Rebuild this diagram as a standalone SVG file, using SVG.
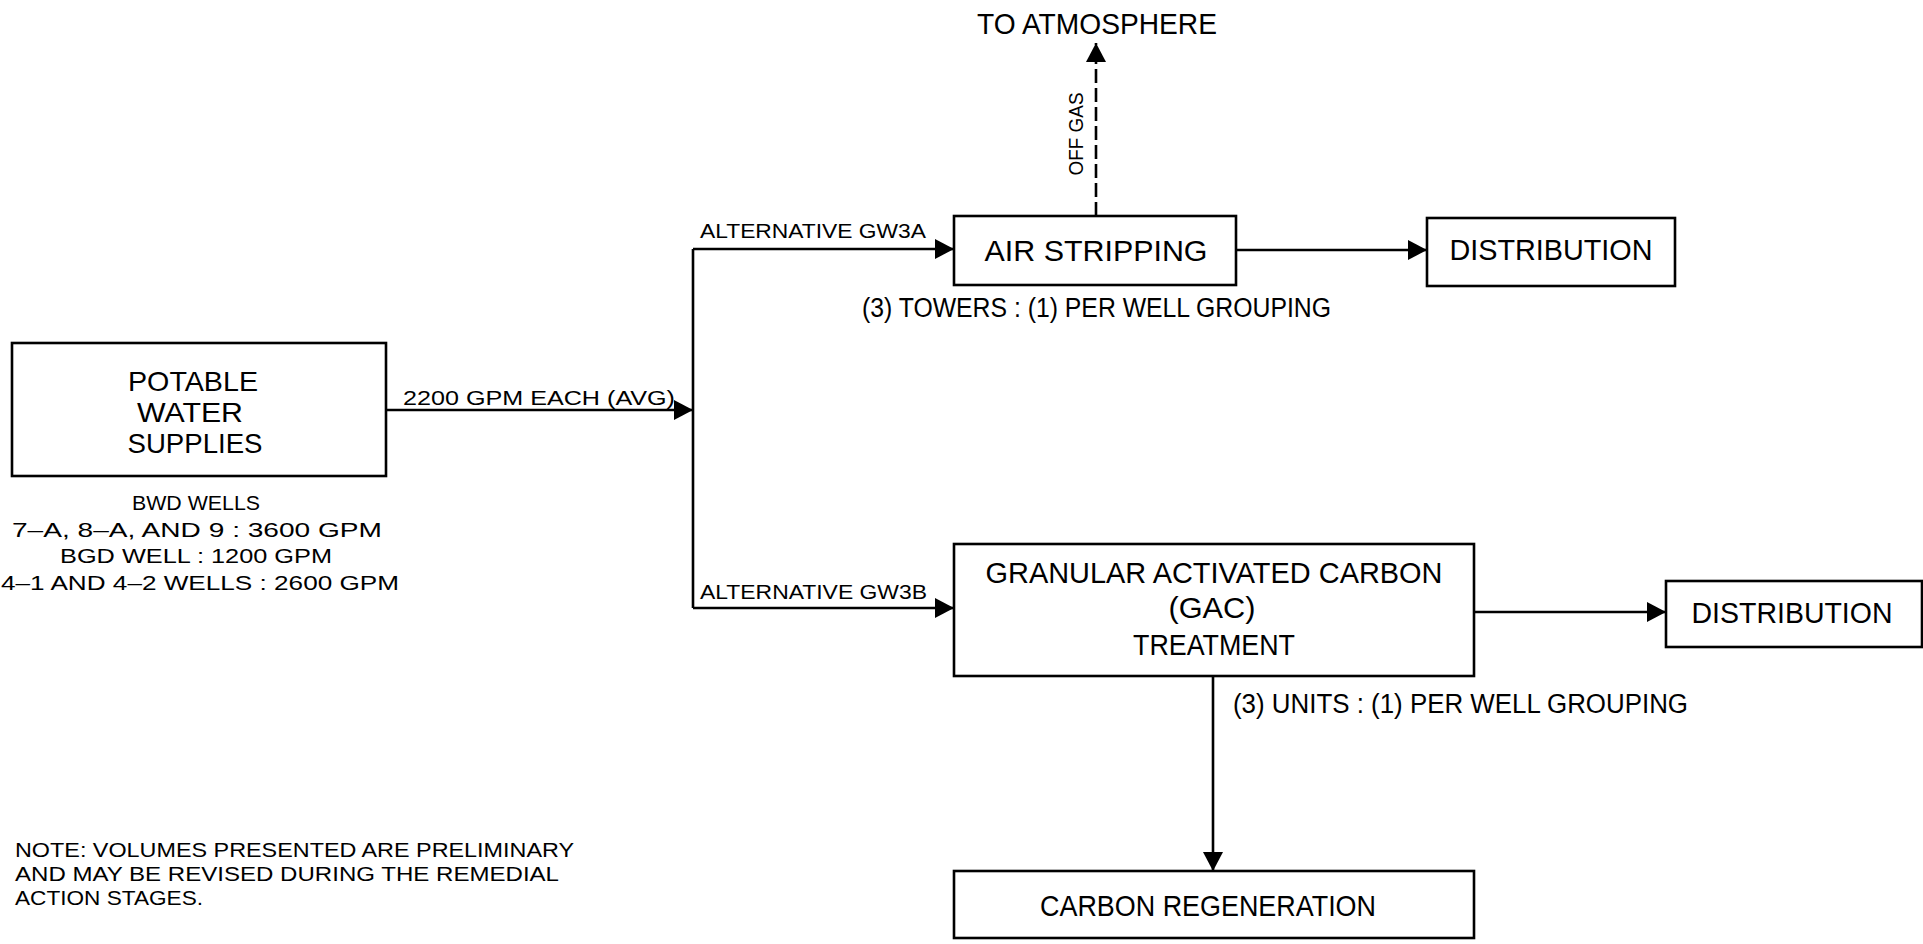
<svg xmlns="http://www.w3.org/2000/svg" width="1923" height="944" viewBox="0 0 1923 944">
  <style>
    .box { fill: #ffffff; stroke: #000000; stroke-width: 2.6; }
    .flow { fill: none; stroke: #000000; stroke-width: 2.6; marker-end: url(#arrow); }
    .plain { fill: none; stroke: #000000; stroke-width: 2.6; }
    .gas { fill: none; stroke: #000000; stroke-width: 2.6; stroke-dasharray: 14 5; marker-end: url(#arrow); }
    text { font-family: "Liberation Sans", Arial, sans-serif; fill: #000000; }
    .big { font-size: 27.5px; }
    .label { font-size: 30px; }
    .note { font-size: 27px; }
    .remark { font-size: 21px; }
    .small { font-size: 21px; }
  </style>
  <defs>
    <marker id="arrow" markerUnits="userSpaceOnUse" viewBox="0 0 20 20" refX="19" refY="10" markerWidth="20" markerHeight="20" orient="auto">
      <path d="M0,0 L19,10 L0,20 Z" fill="#000000"/>
    </marker>
  </defs>

  <rect width="1923" height="944" fill="#ffffff"/>

  <!-- flow lines -->
  <g id="connectors">
    <line class="flow" x1="386" y1="410" x2="693" y2="410"/>
    <line class="plain" x1="693" y1="249" x2="693" y2="608"/>
    <line class="flow" x1="693" y1="249" x2="954" y2="249"/>
    <line class="flow" x1="693" y1="608" x2="954" y2="608"/>
    <line class="flow" x1="1236" y1="250" x2="1427" y2="250"/>
    <line class="flow" x1="1474" y1="612" x2="1666" y2="612"/>
    <line class="flow" x1="1213" y1="676" x2="1213" y2="871"/>
    <line class="gas" x1="1096" y1="216" x2="1096" y2="43"/>
    <text class="small" x="403" y="405" textLength="272" lengthAdjust="spacingAndGlyphs">2200 GPM EACH (AVG)</text>
    <text class="small" x="700" y="238" font-size="22" textLength="226" lengthAdjust="spacingAndGlyphs">ALTERNATIVE GW3A</text>
    <text class="small" x="700" y="599" font-size="22" textLength="227" lengthAdjust="spacingAndGlyphs">ALTERNATIVE GW3B</text>
    <text class="small" transform="translate(1083,134) rotate(-90)" font-size="19" text-anchor="middle" textLength="83" lengthAdjust="spacingAndGlyphs">OFF GAS</text>
  </g>

  <!-- source -->
  <g id="potable-water-supplies">
    <rect class="box" x="12" y="343" width="374" height="133"/>
    <text class="big" x="193" y="391" text-anchor="middle" textLength="130" lengthAdjust="spacingAndGlyphs">POTABLE</text>
    <text class="big" x="190" y="422" text-anchor="middle" textLength="106" lengthAdjust="spacingAndGlyphs">WATER</text>
    <text class="big" x="195" y="453" text-anchor="middle" textLength="135" lengthAdjust="spacingAndGlyphs">SUPPLIES</text>
    <text class="small" x="196" y="510" text-anchor="middle" textLength="128" lengthAdjust="spacingAndGlyphs">BWD WELLS</text>
    <text class="small" x="197" y="537" text-anchor="middle" textLength="370" lengthAdjust="spacingAndGlyphs">7–A, 8–A, AND 9 : 3600 GPM</text>
    <text class="small" x="196" y="563" text-anchor="middle" textLength="272" lengthAdjust="spacingAndGlyphs">BGD WELL : 1200 GPM</text>
    <text class="small" x="200" y="590" text-anchor="middle" textLength="398" lengthAdjust="spacingAndGlyphs">4–1 AND 4–2 WELLS : 2600 GPM</text>
  </g>

  <g id="atmosphere">
    <text class="label" x="1097" y="34" font-size="28" text-anchor="middle" textLength="240" lengthAdjust="spacingAndGlyphs">TO ATMOSPHERE</text>
  </g>

  <g id="air-stripping">
    <rect class="box" x="954" y="216" width="282" height="69"/>
    <text class="label" x="1096" y="261" text-anchor="middle" textLength="223" lengthAdjust="spacingAndGlyphs">AIR STRIPPING</text>
    <text class="note" x="862" y="317" textLength="469" lengthAdjust="spacingAndGlyphs">(3) TOWERS : (1) PER WELL GROUPING</text>
  </g>

  <g id="distribution-a">
    <rect class="box" x="1427" y="218" width="248" height="68"/>
    <text class="label" x="1551" y="260" text-anchor="middle" textLength="203" lengthAdjust="spacingAndGlyphs">DISTRIBUTION</text>
  </g>

  <g id="gac-treatment">
    <rect class="box" x="954" y="544" width="520" height="132"/>
    <text class="label" x="1214" y="583" text-anchor="middle" textLength="457" lengthAdjust="spacingAndGlyphs">GRANULAR ACTIVATED CARBON</text>
    <text class="label" x="1212" y="618" text-anchor="middle" textLength="87" lengthAdjust="spacingAndGlyphs">(GAC)</text>
    <text class="label" x="1214" y="655" text-anchor="middle" textLength="162" lengthAdjust="spacingAndGlyphs">TREATMENT</text>
    <text class="note" x="1233" y="713" textLength="455" lengthAdjust="spacingAndGlyphs">(3) UNITS : (1) PER WELL GROUPING</text>
  </g>

  <g id="distribution-b">
    <rect class="box" x="1666" y="581" width="256" height="66"/>
    <text class="label" x="1792" y="623" text-anchor="middle" textLength="201" lengthAdjust="spacingAndGlyphs">DISTRIBUTION</text>
  </g>

  <g id="carbon-regeneration">
    <rect class="box" x="954" y="871" width="520" height="67"/>
    <text class="label" x="1208" y="916" text-anchor="middle" textLength="336" lengthAdjust="spacingAndGlyphs">CARBON REGENERATION</text>
  </g>

  <g id="note">
    <text class="remark" x="15" y="857" textLength="559" lengthAdjust="spacingAndGlyphs">NOTE: VOLUMES PRESENTED ARE PRELIMINARY</text>
    <text class="remark" x="15" y="881" textLength="544" lengthAdjust="spacingAndGlyphs">AND MAY BE REVISED DURING THE REMEDIAL</text>
    <text class="remark" x="15" y="905" textLength="188" lengthAdjust="spacingAndGlyphs">ACTION STAGES.</text>
  </g>
</svg>
